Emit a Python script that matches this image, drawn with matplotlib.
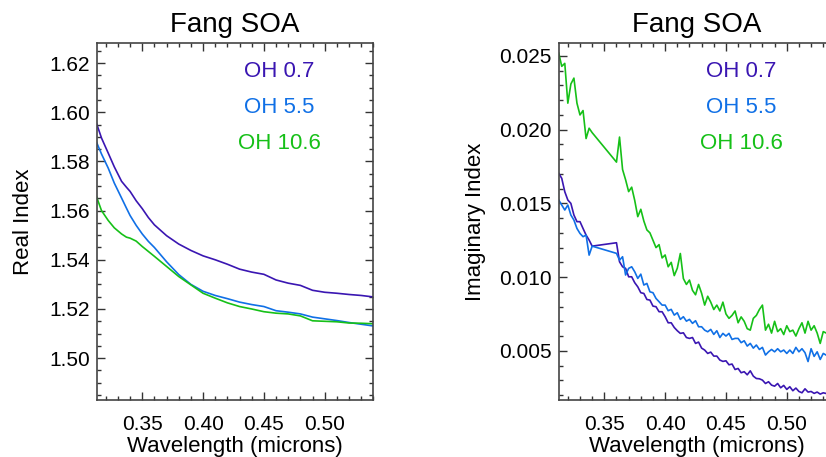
"""
Fang SOA refractive index: real and imaginary parts vs wavelength
"""
import matplotlib
matplotlib.use("Agg")
import matplotlib.pyplot as plt
from matplotlib.ticker import MultipleLocator, FormatStrFormatter

plt.rcParams['font.family'] = ['Liberation Sans', 'DejaVu Sans']

labels = ["OH 0.7", "OH 5.5", "OH 10.6"]
colors = ['#3a16b2', '#1070e6', '#16c018']

# ---- real index (left panel)
wl_real = [0.3125, 0.3165, 0.322, 0.327, 0.333, 0.337, 0.34, 0.345, 0.35, 0.355,
           0.36, 0.37, 0.38, 0.39, 0.40, 0.41, 0.42, 0.43, 0.44, 0.45,
           0.46, 0.47, 0.48, 0.49, 0.50, 0.51, 0.52, 0.53, 0.54]
real_07 = [1.5953, 1.5895, 1.5834, 1.5778, 1.5719, 1.5695, 1.5678, 1.5640, 1.5608, 1.5572,
           1.5542, 1.5498, 1.5464, 1.5438, 1.5416, 1.5400, 1.5382, 1.5362, 1.5350, 1.5341,
           1.5318, 1.5305, 1.5296, 1.5276, 1.5268, 1.5264, 1.5259, 1.5255, 1.5249]
real_55 = [1.5877, 1.5830, 1.5773, 1.5712, 1.5651, 1.5610, 1.5580, 1.5540, 1.5505, 1.5475,
           1.5450, 1.5392, 1.5340, 1.5300, 1.5272, 1.5255, 1.5242, 1.5228, 1.5218, 1.5210,
           1.5193, 1.5187, 1.5180, 1.5167, 1.5160, 1.5153, 1.5145, 1.5138, 1.5131]
real_106 = [1.5655, 1.5600, 1.5560, 1.5530, 1.5505, 1.5492, 1.5488, 1.5476, 1.5454, 1.5434,
            1.5414, 1.5373, 1.5332, 1.5298, 1.5264, 1.5244, 1.5225, 1.5210, 1.5200, 1.5189,
            1.5183, 1.5180, 1.5172, 1.5152, 1.5150, 1.5148, 1.5143, 1.5142, 1.5140]

# ---- imaginary index (right panel), no data between 0.34 and 0.36
wl_imag = [0.3125, 0.315, 0.3175, 0.32, 0.3225, 0.325, 0.3275, 0.33, 0.3325, 0.335, 0.3375, 0.34,
           0.36, 0.3625, 0.365, 0.3675, 0.37, 0.3725, 0.375, 0.3775, 0.38, 0.3825, 0.385, 0.3875,
           0.39, 0.3925, 0.395, 0.3975, 0.40, 0.4025, 0.405, 0.4075, 0.41, 0.4125, 0.415, 0.4175,
           0.42, 0.4225, 0.425, 0.4275, 0.43, 0.4325, 0.435, 0.4375, 0.44, 0.4425, 0.445, 0.4475,
           0.45, 0.4525, 0.455, 0.4575, 0.46, 0.4625, 0.465, 0.4675, 0.47, 0.4725, 0.475, 0.4775,
           0.48, 0.4825, 0.485, 0.4875, 0.49, 0.4925, 0.495, 0.4975, 0.50, 0.5025, 0.505, 0.5075,
           0.51, 0.5125, 0.515, 0.5175, 0.52, 0.5225, 0.525, 0.5275, 0.53, 0.5325, 0.535, 0.5375,
           0.54]
imag_07 = [0.01704, 0.01670, 0.01579, 0.01523, 0.01500, 0.01421, 0.01376, 0.01376, 0.01330, 0.01285, 0.01251, 0.01210,
           0.01233, 0.01104, 0.01070, 0.01059, 0.01002, 0.01002, 0.00962, 0.00934, 0.00894, 0.00889, 0.00848, 0.00844,
           0.00803, 0.00799, 0.00765, 0.00765, 0.00731, 0.00690, 0.00690, 0.00658, 0.00636, 0.00618, 0.00622, 0.00590,
           0.00584, 0.00590, 0.00550, 0.00559, 0.00518, 0.00505, 0.00482, 0.00491, 0.00464, 0.00464, 0.00437, 0.00428,
           0.00432, 0.00405, 0.00410, 0.00373, 0.00380, 0.00351, 0.00358, 0.00337, 0.00364, 0.00328, 0.00312, 0.00310,
           0.00301, 0.00278, 0.00290, 0.00267, 0.00260, 0.00278, 0.00249, 0.00265, 0.00238, 0.00256, 0.00229, 0.00247,
           0.00224, 0.00215, 0.00242, 0.00220, 0.00224, 0.00211, 0.00220, 0.00206, 0.00215, 0.00210, 0.00220, 0.00200,
           0.00210]
imag_55 = [0.01523, 0.01489, 0.01455, 0.01489, 0.01421, 0.01387, 0.01330, 0.01296, 0.01274, 0.01285, 0.01149, 0.01210,
           0.01161, 0.01115, 0.01138, 0.01014, 0.01059, 0.01070, 0.01036, 0.00991, 0.01020, 0.00946, 0.00957, 0.00900,
           0.00894, 0.00855, 0.00833, 0.00810, 0.00810, 0.00772, 0.00781, 0.00742, 0.00758, 0.00713, 0.00731, 0.00701,
           0.00713, 0.00686, 0.00704, 0.00663, 0.00663, 0.00640, 0.00629, 0.00645, 0.00611, 0.00636, 0.00590, 0.00618,
           0.00600, 0.00618, 0.00577, 0.00584, 0.00584, 0.00555, 0.00568, 0.00532, 0.00550, 0.00518, 0.00539, 0.00509,
           0.00523, 0.00471, 0.00493, 0.00509, 0.00493, 0.00514, 0.00493, 0.00505, 0.00482, 0.00505, 0.00482, 0.00523,
           0.00493, 0.00514, 0.00487, 0.00427, 0.00514, 0.00462, 0.00493, 0.00441, 0.00482, 0.00470, 0.00490, 0.00460,
           0.00480]
imag_106 = [0.0252, 0.0243, 0.0245, 0.0218, 0.0231, 0.0235, 0.0218, 0.0210, 0.0213, 0.0194, 0.0201, 0.0198,
            0.0178, 0.0195, 0.0173, 0.0166, 0.0158, 0.0161, 0.0152, 0.0141, 0.0146, 0.0138, 0.0132, 0.0130,
            0.0125, 0.0120, 0.0122, 0.0113, 0.0115, 0.0107, 0.0110, 0.0101, 0.0106, 0.0116, 0.0099, 0.0095,
            0.0098, 0.0091, 0.0088, 0.0095, 0.0089, 0.0081, 0.0087, 0.0083, 0.0078, 0.0081, 0.0077, 0.0083,
            0.0075, 0.0072, 0.0074, 0.0077, 0.0069, 0.0073, 0.0070, 0.0065, 0.0064, 0.0072, 0.0074, 0.0078,
            0.0081, 0.0064, 0.0068, 0.0062, 0.0070, 0.0063, 0.0065, 0.0061, 0.0067, 0.0063, 0.0064, 0.0060,
            0.0065, 0.0069, 0.0062, 0.0070, 0.0064, 0.0067, 0.0062, 0.0055, 0.0063, 0.0062, 0.0064, 0.0061,
            0.0063]


def styleAxes(ax, ymajor, yminor):
    ax.xaxis.set_major_locator(MultipleLocator(0.05))
    ax.xaxis.set_minor_locator(MultipleLocator(0.01))
    ax.yaxis.set_major_locator(MultipleLocator(ymajor))
    ax.yaxis.set_minor_locator(MultipleLocator(yminor))
    ax.tick_params(which='both', direction='in', top=True, right=True, colors='#333333',
                   labelcolor='black', labelsize=15, width=1.0)
    ax.tick_params(which='major', length=6)
    ax.tick_params(which='minor', length=3)
    ax.tick_params(axis='x', pad=11)
    ax.tick_params(axis='y', pad=5)
    for sp in ax.spines.values():
        sp.set_linewidth(1.2)
        sp.set_color('#444444')
    ax.set_title("Fang SOA", fontsize=20, pad=8)
    ax.set_xlabel("Wavelength (microns)", fontsize=16)
    ax.xaxis.set_label_coords(0.5, -0.1)
    ax.set_xlim(0.3125, 0.54)


fig = plt.figure(figsize=(8.26, 4.57), dpi=100)

ax1 = fig.add_axes([0.117, 0.1247, 0.335, 0.7805])
for vals, c in zip([real_07, real_55, real_106], colors):
    ax1.plot(wl_real, vals, color=c, lw=1.2)
styleAxes(ax1, 0.02, 0.005)
ax1.set_ylim(1.483, 1.628)
ax1.yaxis.set_major_formatter(FormatStrFormatter('%.2f'))
ax1.set_ylabel("Real Index", fontsize=16)
ax1.yaxis.set_label_coords(-0.225, 0.5)

ax2 = fig.add_axes([0.6764, 0.1247, 0.335, 0.7805])
for vals, c in zip([imag_07, imag_55, imag_106], colors):
    ax2.plot(wl_imag, vals, color=c, lw=1.2)
styleAxes(ax2, 0.005, 0.001)
ax2.set_ylim(0.00166, 0.02586)
ax2.yaxis.set_major_formatter(FormatStrFormatter('%.3f'))
ax2.set_ylabel("Imaginary Index", fontsize=16)
ax2.yaxis.set_label_coords(-0.262, 0.5)

for ax in (ax1, ax2):
    for i, (lab, c) in enumerate(zip(labels, colors)):
        ax.text(0.66, 0.92 - 0.101 * i, lab, color=c, fontsize=16,
                ha='center', va='center', transform=ax.transAxes)

fig.savefig("out.png", dpi=100)
